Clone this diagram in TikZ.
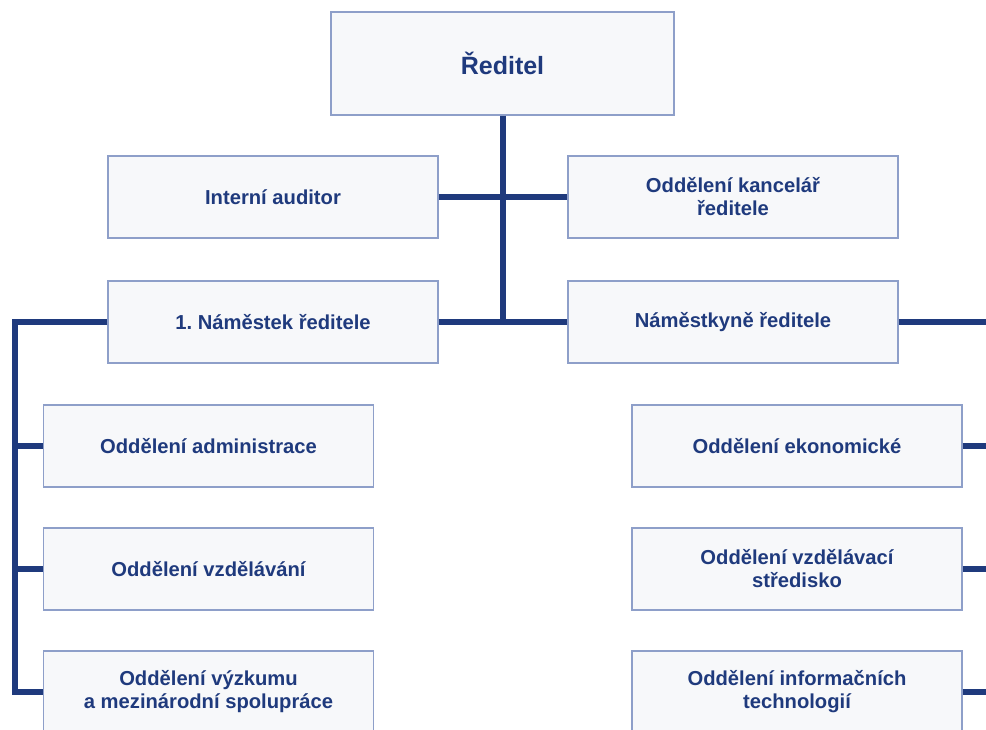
\documentclass[tikz,border=0pt]{standalone}
\usepackage{fontspec}
\setmainfont{Liberation Sans}
\frenchspacing
\definecolor{navy}{HTML}{1F3A7D}
\definecolor{boxline}{HTML}{8E9FC9}
\definecolor{boxfill}{HTML}{F7F8FA}
\tikzset{
  unit/.style={draw=boxline, line width=1.2pt, fill=boxfill, text=navy,
    minimum width=330pt, minimum height=82pt, inner sep=0pt, align=center,
    font=\fontsize{20.2}{23}\selectfont\bfseries},
  link/.style={draw=navy, line width=6pt}
}
\begin{document}
\begin{tikzpicture}[x=1pt, y=-1pt]
  \clip (0,0) rectangle (986,729); % Page frame

  % Top of the chart
  \node[unit, minimum width=343pt, minimum height=103pt,
    font=\fontsize{25}{29}\selectfont\bfseries] (boss) at (502.5,63.5) {Ředitel};
  \node[unit] (audit) at (273,197) {Interní auditor};
  \node[unit] (office) at (733,197) {Oddělení kancelář\\ředitele};
  \node[unit] (dep1) at (273,322) {1. Náměstek ředitele};
  \node[unit] (dep2) at (733,322) {Náměstkyně ředitele};

  % Departments under each deputy
  \foreach \N/\Y/\T in {1/446/{Oddělení administrace},
      2/569/{Oddělení vzdělávání},
      3/692/{Oddělení výzkumu\\a mezinárodní spolupráce}} {
    \node[unit] (left\N) at (208.5,\Y) {\T};
  }
  \foreach \N/\Y/\T in {1/446/{Oddělení ekonomické},
      2/569/{Oddělení vzdělávací\\středisko},
      3/692/{Oddělení informačních\\technologií}} {
    \node[unit] (right\N) at (797,\Y) {\T};
  }

  % Connectors
  \coordinate (lbus) at (14.5,322);
  \coordinate (rbus) at (992,322);
  \draw[link] (boss.south) -- (boss.south |- dep1.east);
  \draw[link] (audit) -- (office);
  \draw[link] (dep1) -- (dep2);
  \draw[link] (dep1.west) -- (lbus) |- (left3.west);
  \draw[link] (dep2) -- (rbus);
  \foreach \N in {1,2} {
    \draw[link] (left\N.west) -- (left\N.west -| lbus);
  }
  \foreach \N in {1,2,3} {
    \draw[link] (right\N.east) -- (right\N.east -| rbus);
  }
\end{tikzpicture}
\end{document}
